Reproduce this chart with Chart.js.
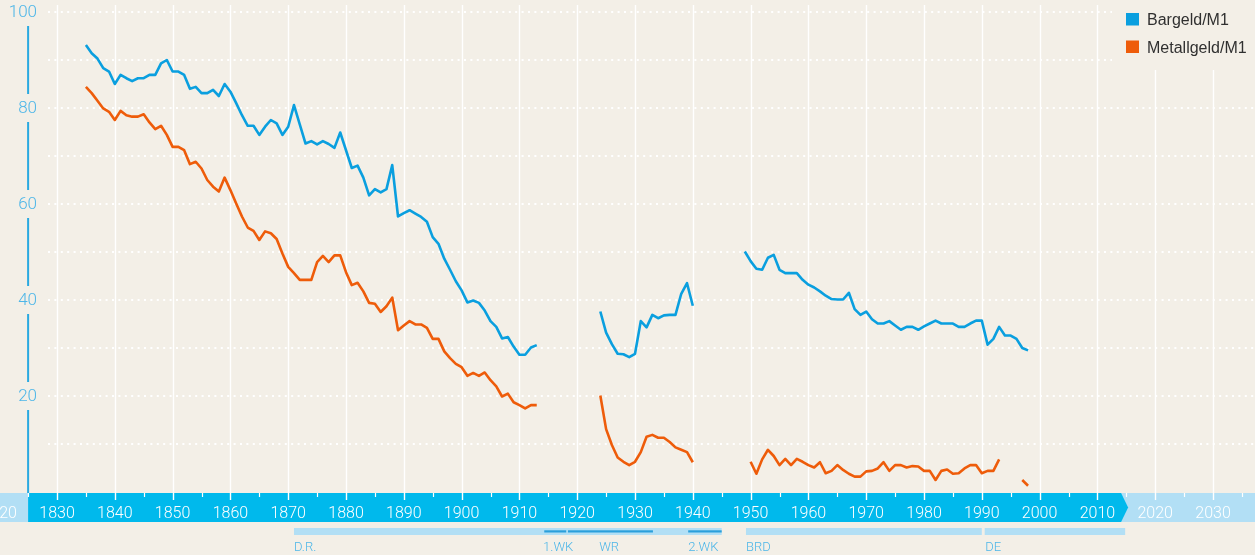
<!DOCTYPE html>
<html><head><meta charset="utf-8">
<script src="https://cdn.jsdelivr.net/npm/chart.js@4.4.1/dist/chart.umd.min.js"></script>
<style>html,body{margin:0;padding:0;background:#f3efe7;overflow:hidden}canvas{display:block}</style>
</head><body><canvas id="c" width="1255" height="555"></canvas>
<script>
// ---------- DATA ----------
const years1 = [1835,1836,1837,1838,1839,1840,1841,1842,1843,1844,1845,1846,1847,1848,1849,1850,1851,1852,1853,1854,1855,1856,1857,1858,1859,1860,1861,1862,1863,1864,1865,1866,1867,1868,1869,1870,1871,1872,1873,1874,1875,1876,1877,1878,1879,1880,1881,1882,1883,1884,1885,1886,1887,1888,1889,1890,1891,1892,1893,1894,1895,1896,1897,1898,1899,1900,1901,1902,1903,1904,1905,1906,1907,1908,1909,1910,1911,1912,1913];
const bargeld1 = [93.1,91.4,90.3,88.3,87.6,85.0,86.9,86.2,85.6,86.2,86.2,86.9,86.9,89.3,90.0,87.6,87.6,86.9,84.0,84.4,83.1,83.1,83.8,82.5,85.0,83.4,81.0,78.5,76.3,76.3,74.4,76.1,77.5,76.8,74.4,76.1,80.6,76.6,72.6,73.1,72.4,73.1,72.5,71.7,74.9,71.2,67.5,68.0,65.5,61.8,63.1,62.4,63.1,68.1,57.4,58.1,58.7,58.0,57.3,56.3,53.1,51.7,48.6,46.3,43.9,42.0,39.5,39.9,39.4,37.8,35.6,34.4,32.0,32.3,30.3,28.6,28.6,30.1,30.6];
const metall1 = [84.4,83.1,81.5,79.9,79.2,77.5,79.4,78.5,78.2,78.2,78.7,77.0,75.6,76.3,74.4,71.9,71.9,71.2,68.3,68.8,67.4,65.0,63.6,62.6,65.5,62.9,60.1,57.4,55.1,54.4,52.5,54.3,53.9,52.7,49.7,46.9,45.6,44.2,44.2,44.2,47.9,49.2,47.9,49.3,49.3,45.8,43.1,43.6,41.8,39.4,39.2,37.5,38.7,40.5,33.7,34.7,35.6,34.9,34.9,34.2,31.9,31.9,29.3,27.9,26.7,26.0,24.2,24.8,24.2,24.9,23.3,22.0,19.9,20.5,18.7,18.1,17.4,18.1,18.1];

const years2 = [1924,1925,1926,1927,1928,1929,1930,1931,1932,1933,1934,1935,1936,1937,1938,1939,1940];
const bargeld2 = [37.6,33.2,30.8,28.8,28.7,28.1,28.8,35.6,34.3,36.9,36.2,36.8,36.9,36.9,41.3,43.5,38.8];
const metall2 = [20.1,13.1,9.8,7.2,6.3,5.6,6.3,8.3,11.5,11.9,11.3,11.3,10.4,9.3,8.8,8.3,6.2];

const years3 = [1949,1950,1951,1952,1953,1954,1955,1956,1957,1958,1959,1960,1961,1962,1963,1964,1965,1966,1967,1968,1969,1970,1971,1972,1973,1974,1975,1976,1977,1978,1979,1980,1981,1982,1983,1984,1985,1986,1987,1988,1989,1990,1991,1992,1993,1994,1995,1996,1997,1998];
const bargeld3 = [50.1,48.1,46.5,46.3,48.8,49.4,46.3,45.6,45.6,45.6,44.2,43.2,42.6,41.8,40.9,40.2,40.1,40.1,41.5,38.1,36.9,37.6,36.0,35.1,35.1,35.6,34.7,33.8,34.4,34.4,33.8,34.5,35.1,35.7,35.1,35.1,35.1,34.4,34.4,35.1,35.7,35.7,30.7,31.9,34.4,32.6,32.6,31.9,30.0,29.5];
const metall3 = [null,6.3,3.8,6.8,8.8,7.5,5.6,6.9,5.6,6.9,6.3,5.6,5.1,6.2,3.9,4.4,5.6,4.6,3.8,3.2,3.2,4.3,4.4,4.9,6.2,4.4,5.6,5.6,5.1,5.4,5.3,4.4,4.4,2.5,4.4,4.7,3.8,3.9,4.9,5.6,5.6,3.9,4.4,4.4,6.8,null,null,null,2.5,1.3];

const seriesNames = ['Bargeld/M1','Metallgeld/M1'];
const xTickYears = [1820,1830,1840,1850,1860,1870,1880,1890,1900,1910,1920,1930,1940,1950,1960,1970,1980,1990,2000,2010,2020,2030];
const xMinorYears = [1825,1835,1845,1855,1865,1875,1885,1895,1905,1915,1925,1935,1945,1955,1965,1975,1985,1995,2005,2015,2025,2035];
const yLabelValues = [20,40,60,80,100];
const yGridValues = [10,20,30,40,50,60,70,80,90,100];

const eraBands = [[1871,1945],[1949.2,1990],[1990.5,2014.8]];
const warBars = [[1914.3,1918.1],[1918.4,1933.1],[1939.2,1945]];
const eraLabels = ['D.R.','1.WK','WR','2.WK','BRD','DE'];
const eraLabelYears = [1871,1914.1,1923.8,1939.2,1949.2,1990.6];
const axisYear = 1825;
const timelineEnd = 2014.1;

// ---------- STYLE ----------
const BG = '#f3efe7';
const BLUE = '#0a9fdf';
const ORANGE = '#ee5c0a';
const LABEL = '#4db6e8';
const BAND = '#00b9ec';
const BAND_LIGHT = '#b2dff5';
const FONT = '"Roboto","Liberation Sans",sans-serif';

function seg(ys, vs){ return ys.map((y,i)=>({x:y,y:vs[i]})); }
const blueData = [...seg(years1,bargeld1),{x:1918,y:null},...seg(years2,bargeld2),{x:1945,y:null},...seg(years3,bargeld3)];
const orangeData = [...seg(years1,metall1),{x:1918,y:null},...seg(years2,metall2),{x:1945,y:null},...seg(years3,metall3)];

const deco = {
  id:'deco',
  beforeDatasetsDraw(chart){
    const ctx = chart.ctx, xs = chart.scales.x, ys = chart.scales.y;
    const W = chart.width;
    const px = v => xs.getPixelForValue(v);
    const py = v => ys.getPixelForValue(v);
    const bandTop = py(0) + 1, bandBot = bandTop + 29;
    ctx.save();
    ctx.fillStyle = BG; ctx.fillRect(0,0,W,chart.height);
    // timeline band
    ctx.fillStyle = BAND_LIGHT; ctx.fillRect(0,bandTop,W,bandBot-bandTop);
    const ax = px(axisYear), te = px(timelineEnd);
    ctx.fillStyle = BAND;
    ctx.beginPath(); ctx.moveTo(ax,bandTop); ctx.lineTo(te,bandTop); ctx.lineTo(te+7,(bandTop+bandBot)/2);
    ctx.lineTo(te,bandBot); ctx.lineTo(ax,bandBot); ctx.closePath(); ctx.fill();
    // vertical grid lines
    ctx.strokeStyle = '#ffffff'; ctx.lineWidth = 1.4;
    xTickYears.forEach(t=>{ const x = Math.round(px(t))+0.5; if (x<5) return;
      ctx.beginPath(); ctx.moveTo(x,5); ctx.lineTo(x,bandTop+7); ctx.stroke(); });
    ctx.lineWidth = 1.2;
    xMinorYears.forEach(t=>{ const x = Math.round(px(t))+0.5;
      ctx.beginPath(); ctx.moveTo(x,bandTop); ctx.lineTo(x,bandTop+4); ctx.stroke(); });
    // horizontal dotted grid
    ctx.setLineDash([2,4.4]); ctx.lineWidth = 2;
    yGridValues.forEach(v=>{ const y = Math.round(py(v));
      ctx.beginPath(); ctx.moveTo(48,y); ctx.lineTo(W,y); ctx.stroke(); });
    ctx.setLineDash([]);
    // y axis line with gaps
    ctx.strokeStyle = '#2aa9e0'; ctx.lineWidth = 2;
    const lab = yLabelValues.slice().sort((a,b)=>b-a).map(py);
    const stops = [...lab, bandTop];
    for (let i=0;i<stops.length-1;i++){
      const y0 = stops[i]+14, y1 = (i===stops.length-2) ? bandTop : stops[i+1]-14;
      ctx.beginPath(); ctx.moveTo(ax,y0); ctx.lineTo(ax,y1); ctx.stroke();
    }
    // y labels
    ctx.fillStyle = LABEL; ctx.font = '300 17px '+FONT; ctx.textAlign='right'; ctx.textBaseline='middle';
    yLabelValues.forEach(v=>ctx.fillText(String(v),37,py(v)+1));
    // x labels
    ctx.fillStyle = '#ffffff'; ctx.font = '300 16px '+FONT; ctx.textAlign='center'; ctx.textBaseline='alphabetic';
    xTickYears.forEach(t=>ctx.fillText(String(t),px(t),bandTop+25));
    // era bands
    ctx.fillStyle = BAND_LIGHT;
    eraBands.forEach(b=>ctx.fillRect(px(b[0]),528,px(b[1])-px(b[0]),7));
    ctx.fillStyle = '#2a9fdb';
    warBars.forEach(b=>ctx.fillRect(px(b[0]),530.3,px(b[1])-px(b[0]),2.2));
    ctx.fillStyle = LABEL; ctx.font = '300 13px '+FONT; ctx.textAlign='left'; ctx.textBaseline='middle';
    eraLabels.forEach((l,i)=>ctx.fillText(l,px(eraLabelYears[i]),548));
    // legend
    ctx.fillStyle = BG; ctx.fillRect(1112,0,W-1112,70);
    const cols = [BLUE,ORANGE];
    ctx.font = '16px "Liberation Sans","Helvetica",sans-serif'; ctx.textBaseline='alphabetic';
    seriesNames.forEach((n,i)=>{
      const y = 13 + i*27.5;
      ctx.fillStyle = cols[i]; ctx.fillRect(1126,y,13,12.5);
      ctx.fillStyle = '#303030'; ctx.fillText(n,1147,y+12.3);
    });
    ctx.restore();
  }
};

new Chart(document.getElementById('c'),{
  type:'line',
  data:{ datasets:[
    {label:seriesNames[0],data:blueData,borderColor:BLUE,borderWidth:2.6,pointRadius:0,tension:0,fill:false,spanGaps:false,borderJoinStyle:'round'},
    {label:seriesNames[1],data:orangeData,borderColor:ORANGE,borderWidth:2.6,pointRadius:0,tension:0,fill:false,spanGaps:false,borderJoinStyle:'round'}
  ]},
  options:{
    responsive:false, devicePixelRatio:1, animation:false,
    layout:{padding:{left:0,right:0,top:12,bottom:63}},
    scales:{
      x:{type:'linear',min:1820.138,max:2037.266,display:false},
      y:{min:0,max:100,display:false}
    },
    plugins:{legend:{display:false},tooltip:{enabled:false}}
  },
  plugins:[deco]
});
</script></body></html>
